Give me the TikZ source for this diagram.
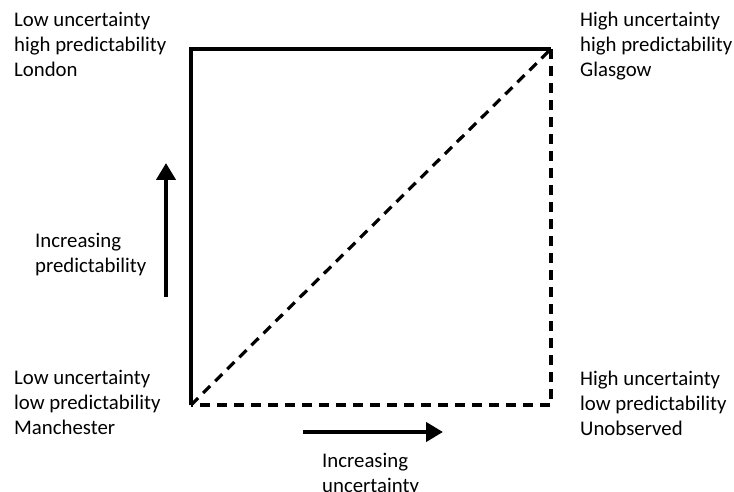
\documentclass[tikz,border=0pt]{standalone}
\usepackage{fontspec}
\setmainfont{Carlito}
\usetikzlibrary{arrows.meta}
\tikzset{
  lbl/.style={anchor=base west, inner sep=0pt, align=left,
    font=\fontsize{20.8}{25}\selectfont},
  edge/.style={line width=3.2pt},
  dashedge/.style={line width=3.2pt, dash pattern=on 10pt off 7pt},
  trend/.style={line width=4.5pt, -{Triangle[length=17pt, width=19pt]}}
}
\begin{document}
\begin{tikzpicture}[x=1pt, y=-1pt]
  \useasboundingbox (0,0) rectangle (734,492);
  % corners of the square
  \coordinate (ll) at (191, 405);
  \coordinate (ul) at (191, 49);
  \coordinate (ur) at (551, 49);
  \coordinate (lr) at (551, 405);
  % corner labels (base = last line)
  \node at (14, 77) [lbl] (lon) {Low uncertainty\\high predictability\\London};
  \node at (580, 77) [lbl] (gla) {High uncertainty\\high predictability\\Glasgow};
  \node at (14, 434) [lbl] (man) {Low uncertainty\\low predictability\\Manchester};
  \node at (580, 435) [lbl] (uno) {High uncertainty\\low predictability\\Unobserved};
  % axis labels
  \node at (35, 272) [lbl] (pred) {Increasing\\predictability};
  \node at (322, 492) [lbl] (unc) {Increasing\\uncertainty};
  % arrows
  \coordinate (p0) at (166, 297);
  \coordinate (p1) at (166, 163);
  \coordinate (u0) at (303, 432);
  \coordinate (u1) at (443, 432);

  \draw[edge] (ll) -- (ul) -- (ur);
  \draw[dashedge] (ur) -- (lr) -- (ll);
  \draw[dashedge] (ll) -- (ur);
  \draw[trend] (p0) -- (p1);
  \draw[trend] (u0) -- (u1);
\end{tikzpicture}
\end{document}
